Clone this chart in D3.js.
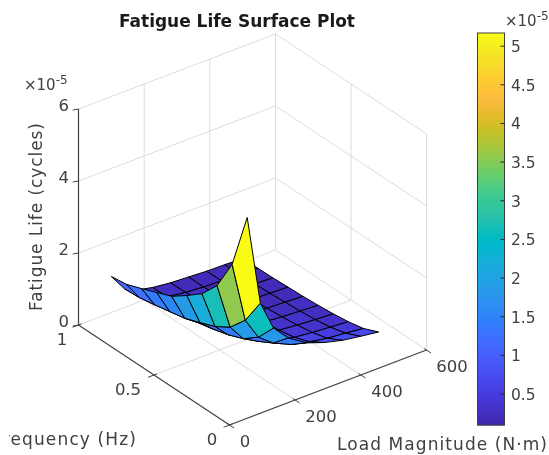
<!DOCTYPE html>
<html>
<head>
<meta charset="utf-8">
<script src="https://cdn.jsdelivr.net/npm/d3@7"></script>
<style>
  html, body { margin: 0; background: #fff; }
  svg { display: block; filter: blur(0.6px); }
  text { font-family: "DejaVu Sans", sans-serif; }
</style>
</head>
<body>
<script>
const width = 549;
const height = 455;

// surface samples, fatigue life in units of 1e-5
const loads = [100, 140, 180, 225, 280, 335, 390, 445, 500];
const freqs = [0.1, 0.2, 0.3, 0.4, 0.5, 0.6, 0.7, 0.8, 0.9, 1];
const life = [
    [5.14, 2.62, 1.79, 1.36, 1.03, 0.85, 0.72, 0.64, 0.57],
    [3.56, 1.87, 1.26, 0.94, 0.71, 0.59, 0.50, 0.45, 0.39],
    [2.69, 1.40, 0.94, 0.71, 0.54, 0.44, 0.38, 0.34, 0.30],
    [2.19, 1.14, 0.77, 0.58, 0.44, 0.36, 0.31, 0.27, 0.24],
    [1.86, 0.97, 0.65, 0.49, 0.37, 0.31, 0.26, 0.23, 0.20],
    [1.56, 0.81, 0.55, 0.41, 0.31, 0.26, 0.22, 0.20, 0.17],
    [1.39, 0.72, 0.49, 0.37, 0.28, 0.23, 0.19, 0.17, 0.15],
    [1.22, 0.63, 0.43, 0.32, 0.24, 0.20, 0.17, 0.15, 0.13],
    [1.06, 0.55, 0.37, 0.28, 0.21, 0.17, 0.15, 0.13, 0.12],
    [1.00, 0.52, 0.35, 0.26, 0.20, 0.17, 0.14, 0.13, 0.11]
];

const loadTicks = [0, 200, 400, 600];
const freqTicks = [0, 0.5, 1];
const lifeTicks = [0, 2, 4, 6];
const barTicks = [0.5, 1, 1.5, 2, 2.5, 3, 3.5, 4, 4.5, 5];
const barRange = [0.1, 5.17];

const parula = ["#3e26a8", "#412bb8", "#422fc0", "#4433cb", "#4538d5", "#463cde", "#4741e5", "#4747eb",
    "#484cf0", "#4852f4", "#4758f8", "#465dfb", "#4563fd", "#4269fe", "#3e6fff", "#3875fe",
    "#327cfc", "#2f81fa", "#2d87f7", "#2d8cf3", "#2b91ef", "#2796eb", "#259be7", "#23a0e5",
    "#20a5e3", "#1ca9df", "#18addb", "#12b1d6", "#08b5d0", "#01b8ca", "#02bac3", "#0bbdbc",
    "#19bfb5", "#24c1ae", "#2cc3a7", "#31c69f", "#37c897", "#3fca8e", "#4acb84", "#57cc7a",
    "#64cd6f", "#72cc64", "#81cc59", "#8fca4e", "#9dc942", "#abc739", "#b9c431", "#c5c22a",
    "#d1bf27", "#dcbd29", "#e6bb2d", "#f0ba36", "#f8ba3d", "#febe3c", "#fec338", "#fec934",
    "#fccf30", "#f9d52d", "#f7dc2a", "#f5e227", "#f5e924", "#f6ef20", "#f7f51b", "#f9fb15"];

const ink = "#404040";
const gridColor = "#dcdcdc";

const svg = d3.select("body").append("svg")
    .attr("width", width)
    .attr("height", height);

// oblique box: each data axis moves the point along its own screen direction
const origin = [229.5, 425];
const loadX = d3.scaleLinear().domain([0, 600]).range([0, 197]);
const loadY = d3.scaleLinear().domain([0, 600]).range([0, -75]);
const freqX = d3.scaleLinear().domain([0, 1]).range([0, -151]);
const freqY = d3.scaleLinear().domain([0, 1]).range([0, -100]);
const lifeY = d3.scaleLinear().domain([0, 6]).range([0, -216]);

const project = (l, f, z) => [
    origin[0] + loadX(l) + freqX(f),
    origin[1] + loadY(l) + freqY(f) + lifeY(z)
];

const line = d3.line();

const colorPos = d3.scaleLinear()
    .domain(barRange)
    .range([0, parula.length - 1])
    .clamp(true);
const color = (v) => parula[Math.round(colorPos(v))];

function seg(a, b, stroke, w) {
    svg.append("path")
        .attr("d", line([a, b]))
        .attr("fill", "none")
        .attr("stroke", stroke)
        .attr("stroke-width", w);
}

// floor and wall grid
const gridW = 1;
loadTicks.slice(1).forEach(l => {
    seg(project(l, 1, 0), project(l, 1, 6), gridColor, gridW);
    if (l < 600) seg(project(l, 0, 0), project(l, 1, 0), gridColor, gridW);
});
freqTicks.forEach(f => {
    seg(project(600, f, 0), project(600, f, 6), gridColor, gridW);
    if (f > 0) seg(project(0, f, 0), project(600, f, 0), gridColor, gridW);
});
seg(project(600, 0, 0), project(600, 1, 0), gridColor, gridW);
lifeTicks.slice(1).forEach(z => {
    seg(project(0, 1, z), project(600, 1, z), gridColor, gridW);
    seg(project(600, 1, z), project(600, 0, z), gridColor, gridW);
});

// surface cells, far ones first; a cell takes the colour of its lowest-index corner
const cells = [];
for (let i = 0; i < freqs.length - 1; i++) {
    for (let j = 0; j < loads.length - 1; j++) {
        cells.push({ i: i, j: j, depth: project(loads[j], freqs[i], 0)[1] + project(loads[j + 1], freqs[i + 1], 0)[1] });
    }
}
cells.sort((a, b) => a.depth - b.depth);

svg.selectAll(".cell")
    .data(cells)
    .enter()
    .append("path")
    .attr("class", "cell")
    .attr("d", (c) => line([
        project(loads[c.j], freqs[c.i], life[c.i][c.j]),
        project(loads[c.j + 1], freqs[c.i], life[c.i][c.j + 1]),
        project(loads[c.j + 1], freqs[c.i + 1], life[c.i + 1][c.j + 1]),
        project(loads[c.j], freqs[c.i + 1], life[c.i + 1][c.j])
    ]) + "Z")
    .attr("fill", (c) => color(life[c.i][c.j]))
    .attr("stroke", "#000")
    .attr("stroke-width", 1)
    .attr("stroke-linejoin", "round");

// axis lines and ticks
seg(project(0, 1, 0), project(0, 1, 6), ink, 1.2);
seg(project(0, 0, 0), project(600, 0, 0), ink, 1.2);
seg(project(0, 0, 0), project(0, 1, 0), ink, 1.2);

const tickLen = 0.03;
loadTicks.forEach(l => seg(project(l, -tickLen, 0), project(l, tickLen / 2, 0), ink, 1));
freqTicks.forEach(f => seg(project(-18, f, 0), project(9, f, 0), ink, 1));
lifeTicks.forEach(z => seg(project(0, 1, z), project(-14, 1 + tickLen / 4, z), ink, 1));

function label(x, y, str, size, anchor) {
    return svg.append("text")
        .attr("x", x)
        .attr("y", y)
        .attr("font-size", size)
        .attr("fill", ink)
        .attr("text-anchor", anchor || "middle")
        .text(str);
}

const tickSize = 16.5;
lifeTicks.forEach(z => label(69, project(0, 1, z)[1] + 1.5, z, tickSize, "end"));
const freqLabelPos = { 0: [212, 445], 0.5: [128, 395], 1: [62, 345] };
freqTicks.forEach(f => label(freqLabelPos[f][0], freqLabelPos[f][1], f, tickSize));
const loadLabelPos = { 0: [245, 447], 200: [321, 422], 400: [387, 397], 600: [452, 372] };
loadTicks.forEach(l => label(loadLabelPos[l][0], loadLabelPos[l][1], l, tickSize));

function exponent(x, y) {
    const t = label(x, y, "\u00d7", 15, "start");
    t.append("tspan").text("10");
    t.append("tspan").attr("dy", -6).attr("font-size", 12).text("-5");
}
exponent(24, 90);
exponent(505, 26);

// titles
label(237, 27, "Fatigue Life Surface Plot", 17, "middle")
    .attr("font-weight", "bold")
    .attr("fill", "#1a1a1a")
    .attr("textLength", 236)
    .attr("lengthAdjust", "spacing");

label(42, 0, "Fatigue Life (cycles)", 17)
    .attr("transform", "rotate(-90 42 0) translate(-217 0)")
    .attr("y", 0)
    .attr("textLength", 188);

// the reference is cropped through the F of this label
svg.append("clipPath").attr("id", "left-crop")
    .append("rect").attr("x", 9).attr("y", 0).attr("width", 200).attr("height", height);
svg.append("g").attr("clip-path", "url(#left-crop)")
    .append("text")
    .attr("x", -7)
    .attr("y", 445)
    .attr("font-size", 17)
    .attr("fill", ink)
    .attr("textLength", 143)
    .text("Frequency (Hz)");

label(337, 450, "Load Magnitude (N\u00b7m)", 17, "start")
    .attr("textLength", 210);

// colorbar
const barY = d3.scaleLinear().domain(barRange).range([425, 33]);
const barX = [477.5, 504.5];
svg.selectAll(".bar")
    .data(d3.range(33, 425))
    .enter()
    .append("rect")
    .attr("class", "bar")
    .attr("x", barX[0])
    .attr("y", (d) => d)
    .attr("width", barX[1] - barX[0])
    .attr("height", 1.5)
    .attr("fill", (d) => {
        const t = colorPos(barY.invert(d + 0.5));
        const k = Math.min(Math.floor(t), parula.length - 2);
        return d3.interpolateRgb(parula[k], parula[k + 1])(t - k);
    });
svg.append("rect")
    .attr("x", barX[0])
    .attr("y", 33)
    .attr("width", barX[1] - barX[0])
    .attr("height", 392)
    .attr("fill", "none")
    .attr("stroke", ink)
    .attr("stroke-width", 1);
barTicks.forEach(v => {
    seg([barX[1] - 4, barY(v)], [barX[1], barY(v)], "#262626", 1);
    label(511, barY(v) + 6, v, 15.5, "start");
});
</script>
</body>
</html>
